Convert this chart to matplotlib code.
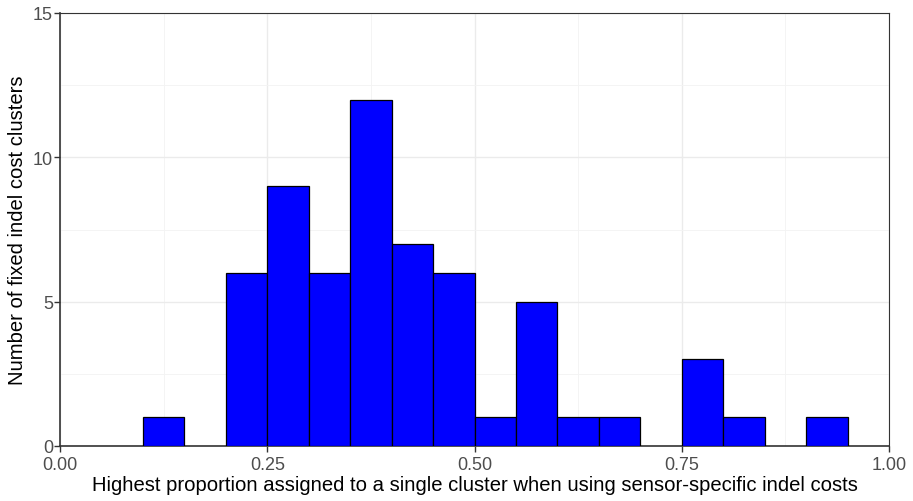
import numpy as np
import matplotlib.pyplot as plt
from matplotlib.ticker import MultipleLocator

plt.rcParams["font.family"] = ["Liberation Sans", "DejaVu Sans"]

# histogram bins (width 0.05) and counts per bin
bin_edges = [0.10, 0.15, 0.20, 0.25, 0.30, 0.35, 0.40, 0.45, 0.50,
             0.55, 0.60, 0.65, 0.70, 0.75, 0.80, 0.85, 0.90, 0.95]
counts = [1, 0, 6, 9, 6, 12, 7, 6, 1, 5, 1, 1, 0, 3, 1, 0, 1]

x_ticks = [0.00, 0.25, 0.50, 0.75, 1.00]
x_labels = ["0.00", "0.25", "0.50", "0.75", "1.00"]
y_ticks = [0, 5, 10, 15]

fig = plt.figure(figsize=(9.13, 5.02), dpi=100)
ax = fig.add_axes([60 / 913, 1 - 447 / 502, 829 / 913, 433 / 502])

lefts = np.array(bin_edges[:-1])
widths = np.diff(bin_edges)
for l, w, c in zip(lefts, widths, counts):
    if c > 0:
        ax.bar(l, c, width=w, align="edge", color="#0000ff",
               edgecolor="black", linewidth=0.9, zorder=3)

ax.set_xlim(0, 1)
ax.set_ylim(0, 15)
ax.set_xticks(x_ticks)
ax.set_xticklabels(x_labels)
ax.set_yticks(y_ticks)
ax.xaxis.set_minor_locator(MultipleLocator(0.125))
ax.yaxis.set_minor_locator(MultipleLocator(2.5))

ax.grid(which="major", color="#ebebeb", linewidth=1.0, zorder=0)
ax.grid(which="minor", color="#f3f3f3", linewidth=0.6, zorder=0)
ax.tick_params(which="minor", length=0)
ax.tick_params(which="major", length=4, width=1, color="#333333",
               labelsize=13, labelcolor="#4d4d4d")
ax.tick_params(axis="x", pad=3.5)
ax.tick_params(axis="y", pad=1)

for side in ["left", "bottom"]:
    ax.spines[side].set_color("#333333")
    ax.spines[side].set_linewidth(1.2)
for side in ["top", "right"]:
    ax.spines[side].set_color("#333333")
    ax.spines[side].set_linewidth(0.8)

ax.set_xlabel("Highest proportion assigned to a single cluster when using sensor-specific indel costs",
              fontsize=14.6, color="black", labelpad=1)
ax.set_ylabel("Number of fixed indel cost clusters", fontsize=14.6, color="black", labelpad=4)

fig.savefig("out.png", dpi=100)
